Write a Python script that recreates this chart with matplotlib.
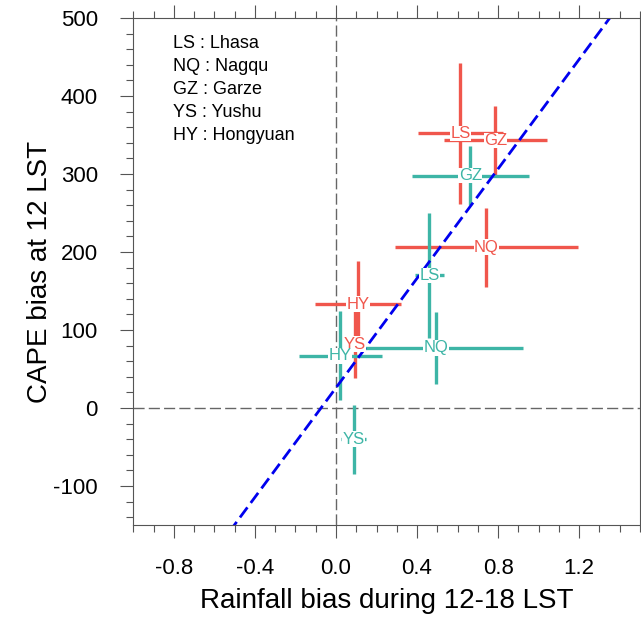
import matplotlib.pyplot as plt
import numpy as np

plt.rcParams['font.family'] = ['Liberation Sans', 'DejaVu Sans']
plt.rcParams['axes.unicode_minus'] = False

# stations
names = ['LS', 'NQ', 'GZ', 'YS', 'HY']
full_names = ['Lhasa', 'Nagqu', 'Garze', 'Yushu', 'Hongyuan']

# red group
red_x = [0.614, 0.742, 0.787, 0.093, 0.109]
red_y = [352, 206, 343, 82, 133]
red_xerr = [0.21, 0.45, 0.255, 0.03, 0.214]
red_yerr = [90, 51, 44, 43, 55]

# teal group
teal_x = [0.461, 0.494, 0.663, 0.087, 0.021]
teal_y = [170, 77, 298, -40, 67]
teal_xerr = [0.07, 0.43, 0.289, 0.063, 0.205]
teal_yerr = [80, 46, 38, 44, 57]

red_c = '#F0564C'
teal_c = '#3DB5A6'

fig = plt.figure(figsize=(6.41, 6.18), dpi=100)
ax = fig.add_axes([133.3 / 641, 1 - 525 / 618, (640 - 133.3) / 641, (525 - 18) / 618])

ax.axvline(0, color='#666666', lw=1.0, dashes=(8, 3), zorder=1)
ax.axhline(0, color='#666666', lw=1.0, dashes=(8, 3), zorder=1)

ax.errorbar(red_x, red_y, xerr=red_xerr, yerr=red_yerr, fmt='none',
            ecolor=red_c, elinewidth=2.4, capsize=0, zorder=2)
ax.errorbar(teal_x, teal_y, xerr=teal_xerr, yerr=teal_yerr, fmt='none',
            ecolor=teal_c, elinewidth=2.4, capsize=0, zorder=2)

# regression line through all points
allx = np.array(red_x + teal_x)
ally = np.array(red_y + teal_y)
k, b = np.polyfit(allx, ally, 1)
xx = np.array([-1.0, 1.5])
ax.plot(xx, k * xx + b, color='#0000EE', lw=2.0, dashes=(4.5, 2), zorder=2.5)

for i in range(len(names)):
    ax.text(red_x[i], red_y[i], names[i], color=red_c, fontsize=12,
            ha='center', va='center', zorder=3,
            bbox=dict(facecolor='white', edgecolor='none', pad=0.3))
    ax.text(teal_x[i], teal_y[i], names[i], color=teal_c, fontsize=12,
            ha='center', va='center', zorder=3,
            bbox=dict(facecolor='white', edgecolor='none', pad=0.3))

for i in range(len(names)):
    ax.text(0.078, 0.95 - i * 0.0452, names[i] + ' : ' + full_names[i],
            transform=ax.transAxes, fontsize=13, ha='left', va='center')

ax.set_xlim(-1.0, 1.5)
ax.set_ylim(-150, 500)
ax.set_xticks([-0.8, -0.4, 0.0, 0.4, 0.8, 1.2])
ax.set_xticklabels(['-0.8', '-0.4', '0.0', '0.4', '0.8', '1.2'])
ax.set_xticks(np.arange(-1.0, 1.51, 0.1), minor=True)
ax.set_yticks([-100, 0, 100, 200, 300, 400, 500])
ax.set_yticks(np.arange(-140, 501, 20), minor=True)

for s in ax.spines.values():
    s.set_color('#555555')
    s.set_linewidth(0.8)
ax.tick_params(which='both', direction='out', top=True, right=True,
               color='#555555', width=0.8, labelsize=16, pad=14)
ax.tick_params(which='major', length=9.5)
ax.tick_params(which='minor', length=5)
ax.tick_params(axis='y', pad=16)

ax.set_xlabel('Rainfall bias during 12-18 LST', fontsize=20, labelpad=7)
ax.set_ylabel('CAPE bias at 12 LST', fontsize=20, labelpad=0)

fig.savefig('out.png', dpi=100)
